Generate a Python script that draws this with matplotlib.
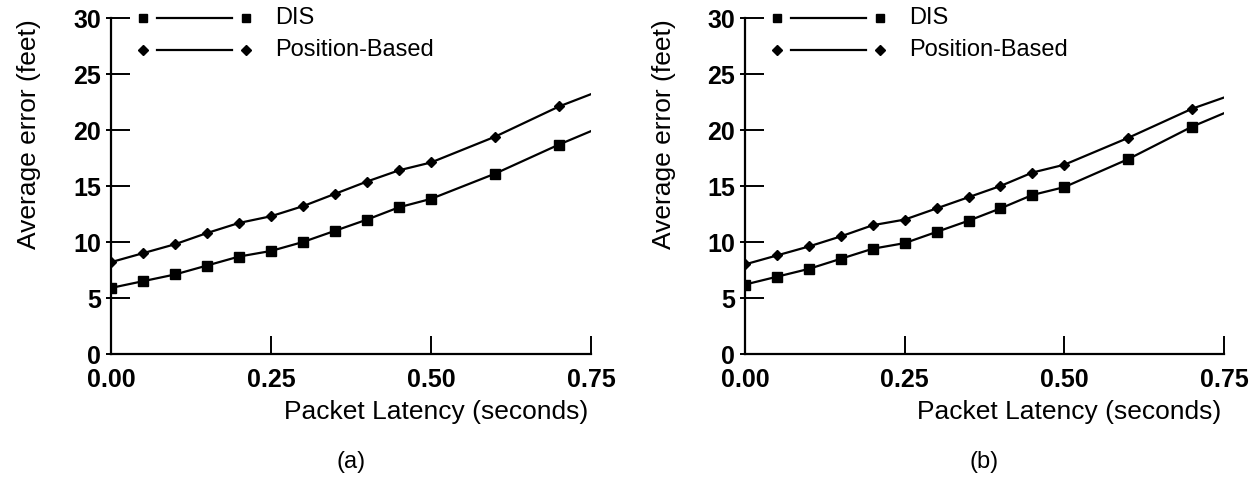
import matplotlib
matplotlib.use("Agg")
import matplotlib.pyplot as plt
import numpy as np

plt.rcParams["font.family"] = ["Liberation Sans", "DejaVu Sans"]

# datos
latencia = [0.0, 0.05, 0.10, 0.15, 0.20, 0.25, 0.30, 0.35, 0.40, 0.45, 0.50, 0.60, 0.70, 0.75]

dis_a = [5.9, 6.5, 7.1, 7.9, 8.7, 9.2, 10.0, 11.0, 12.0, 13.1, 13.85, 16.1, 18.7, 19.9]
pos_a = [8.2, 9.0, 9.8, 10.8, 11.7, 12.3, 13.2, 14.3, 15.4, 16.4, 17.1, 19.4, 22.1, 23.2]

dis_b = [6.2, 6.9, 7.6, 8.5, 9.4, 9.9, 10.9, 11.9, 13.0, 14.2, 14.9, 17.4, 20.3, 21.5]
pos_b = [8.0, 8.8, 9.6, 10.5, 11.5, 12.0, 13.0, 14.0, 15.0, 16.2, 16.9, 19.3, 21.9, 22.9]

x_ticks = [0.0, 0.25, 0.50, 0.75]
x_labels = ["0.00", "0.25", "0.50", "0.75"]
y_ticks = [0, 5, 10, 15, 20, 25, 30]

series_names = ["DIS", "Position-Based"]
paneles = [("(a)", dis_a, pos_a), ("(b)", dis_b, pos_b)]

fig = plt.figure(figsize=(12.6, 4.8), dpi=100)
posiciones = [
    [111 / 1260, 126 / 480, 480 / 1260, 336 / 480],
    [745 / 1260, 126 / 480, 479 / 1260, 336 / 480],
]

for pos, (letra, dis, pbased) in zip(posiciones, paneles):
    ax = fig.add_axes(pos)

    # marcadores en todos los puntos menos el extremo 0.75
    marcas = list(range(len(latencia) - 1))
    ax.plot(latencia, dis, color="black", lw=1.6, marker="s", ms=6.5,
            markevery=marcas)
    ax.plot(latencia, pbased, color="black", lw=1.6, marker="D", ms=5.5,
            markevery=marcas)

    ax.set_xlim(0, 0.75)
    ax.set_ylim(0, 30)
    ax.set_xticks(x_ticks)
    ax.set_xticklabels(x_labels)
    ax.set_yticks(y_ticks)
    ax.set_yticks(y_ticks, minor=True)
    ax.yaxis.remove_overlapping_locs = False

    for s in ["top", "right"]:
        ax.spines[s].set_visible(False)
    for s in ["left", "bottom"]:
        ax.spines[s].set_linewidth(1.6)

    ax.tick_params(axis="x", which="major", direction="in", length=13,
                   width=1.4, pad=10, labelsize=18)
    ax.tick_params(axis="y", which="major", direction="in", length=13.5,
                   width=1.4, pad=7, labelsize=18)
    ax.tick_params(axis="y", which="minor", direction="out", length=3.5,
                   width=1.4)
    for t in ax.get_xticklabels() + ax.get_yticklabels():
        t.set_fontweight("bold")

    ax.text(-0.17, 0.655, "Average error (feet)", transform=ax.transAxes,
            rotation=90, ha="center", va="center", fontsize=19)
    ax.text(0.994, -0.173, "Packet Latency (seconds)", transform=ax.transAxes,
            ha="right", va="center", fontsize=19)
    ax.text(0.5, -0.32, letra, transform=ax.transAxes,
            ha="center", va="center", fontsize=17)

    # leyenda dibujada a mano
    for fila, (nombre, mk, ms) in enumerate(zip(series_names, ["s", "D"], [5.5, 5])):
        yy = 1.0 - fila * 0.095
        ax.plot([0.067, 0.281], [yy, yy], transform=ax.transAxes, ls="none",
                marker=mk, ms=ms, color="black", clip_on=False)
        ax.plot([0.096, 0.252], [yy, yy], transform=ax.transAxes,
                color="black", lw=1.6, clip_on=False)
        ax.text(0.342, yy, nombre, transform=ax.transAxes, ha="left",
                va="center", fontsize=17)

fig.savefig("out.png", dpi=100)
